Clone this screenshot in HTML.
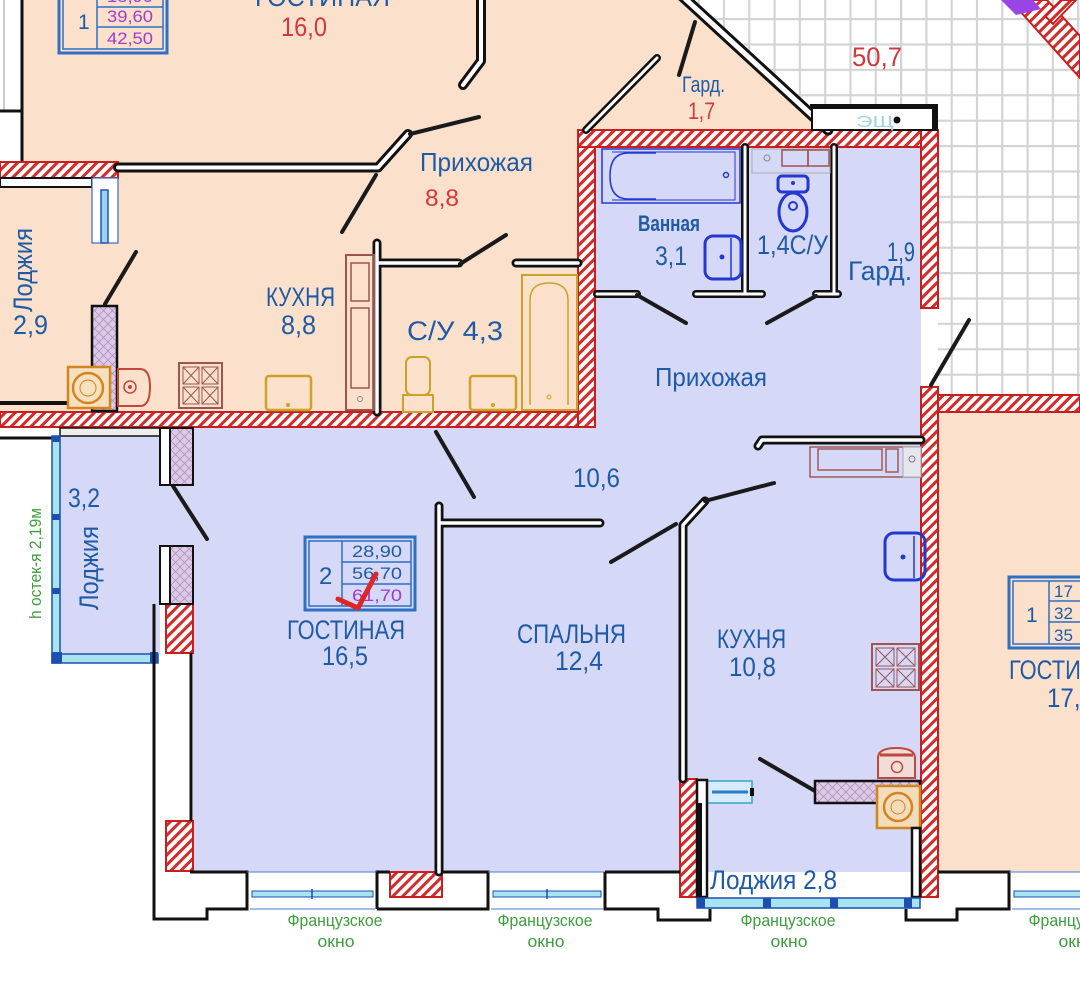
<!DOCTYPE html>
<html><head><meta charset="utf-8">
<style>
html,body{margin:0;padding:0;background:#fff;}
svg{display:block;}
text{font-family:"Liberation Sans","DejaVu Sans",sans-serif;}
</style></head>
<body>
<svg width="1080" height="992" viewBox="0 0 1080 992" xmlns="http://www.w3.org/2000/svg">
<defs>
<pattern id="grid" x="900" y="18" width="25.3" height="25.4" patternUnits="userSpaceOnUse">
 <rect width="25.3" height="25.4" fill="#fff"/>
 <rect x="0" y="0" width="2.2" height="25.4" fill="#d4d4d4"/>
 <rect x="0" y="0" width="25.3" height="2.2" fill="#d4d4d4"/>
</pattern>
<pattern id="hatch" width="7" height="7" patternUnits="userSpaceOnUse" patternTransform="rotate(45)">
 <rect width="7" height="7" fill="#fff"/>
 <rect width="3" height="7" fill="#d42a2a"/>
</pattern>
<pattern id="xh" width="9" height="9" patternUnits="userSpaceOnUse">
 <rect width="9" height="9" fill="#dccbe6"/>
 <path d="M0 0L9 9M9 0L0 9" stroke="#b48fbf" stroke-width="0.8"/>
</pattern>
</defs>

<!-- backgrounds -->
<rect width="1080" height="992" fill="#fff"/>
<rect x="560" y="0" width="520" height="396" fill="url(#grid)"/>
<polygon points="22,0 681,0 828,130 578,130 578,412 0,412 0,162 22,162" fill="#fbe1cc"/>
<rect x="921" y="300" width="17" height="95" fill="#fff"/>
<rect x="938" y="412" width="142" height="460" fill="#fbe1cc"/>
<polygon points="595,147 921,147 921,872 193,872 193,604 160,604 160,427 595,427" fill="#d5d9f7"/>
<rect x="60" y="436" width="100" height="218" fill="#d5d9f7"/>

<!-- left top strip -->
<rect x="0" y="0" width="22" height="162" fill="#fff"/>
<line x1="4" y1="0" x2="4" y2="110" stroke="#bbb" stroke-width="1.5"/>
<line x1="22" y1="0" x2="22" y2="162" stroke="#111" stroke-width="3"/>
<line x1="0" y1="111" x2="22" y2="111" stroke="#111" stroke-width="3"/>

<!-- top-left label box -->
<g stroke="#2f6fc4" fill="none">
 <rect x="59" y="-10" width="108" height="63" stroke-width="3"/>
 <rect x="63" y="-10" width="100" height="59" stroke-width="1.5"/>
 <line x1="97" y1="-10" x2="97" y2="49" stroke-width="1.5"/>
 <line x1="97" y1="7" x2="163" y2="7" stroke-width="1.5"/>
 <line x1="97" y1="27" x2="163" y2="27" stroke-width="1.5"/>
</g>

<!-- red walls -->
<g fill="url(#hatch)" stroke="#c81e1e" stroke-width="2">
 <rect x="0" y="162" width="118" height="16"/>
 <rect x="0" y="412" width="595" height="15"/>
 <rect x="578" y="130" width="17" height="297"/>
 <rect x="578" y="130" width="360" height="17"/>
 <rect x="921" y="130" width="17" height="178"/>
 <rect x="921" y="387" width="17" height="510"/>
 <rect x="938" y="395" width="142" height="17"/>
 <rect x="166" y="604" width="27" height="49"/>
 <rect x="166" y="821" width="27" height="50"/>
 <rect x="390" y="872" width="52" height="25"/>
 <rect x="680" y="779" width="17" height="118"/>
 <polygon points="1010,0 1047,0 1080,36 1080,78"/>
 <polygon points="1045,16 1061,0 1076,0 1053,24"/>
</g>
<polygon points="1001,0 1033,0 1041,9 1016,15" fill="#9a44e6"/>

<!-- loggia top-left details -->
<rect x="0" y="178" width="92" height="9" fill="#fff" stroke="#111" stroke-width="2"/>
<rect x="92" y="178" width="26" height="65" fill="#fff" stroke="#3a6ac0" stroke-width="1.2"/>
<rect x="101" y="190" width="7" height="53" fill="#9fd0f0" stroke="#1d58b8" stroke-width="1.5"/>
<line x1="0" y1="403" x2="68" y2="403" stroke="#111" stroke-width="4"/>

<!-- thin walls (double lines) -->
<g fill="none" stroke="#111" stroke-linecap="round" stroke-linejoin="round">
 <path d="M118 167.5 L378 167.5 L408 134" stroke-width="10"/>
 <path d="M481 0 L481 61 L463 85" stroke-width="10"/>
 <path d="M681 -5 L828 130" stroke-width="11"/>
 <path d="M657 58 L586 130" stroke-width="8"/>
 <path d="M377 243 L377 412 M377 263 L459 263" stroke-width="9"/>
 <path d="M516 263 L578 263" stroke-width="9"/>
 <path d="M745 147 L745 294 M597 294 L637 294 M696 294 L762 294" stroke-width="8"/>
 <path d="M834 147 L834 294 M816 294 L838 294" stroke-width="8"/>
 <path d="M758 446 L762 440 L921 440" stroke-width="9"/>
 <path d="M439 506 L439 872 M439 523 L600 523" stroke-width="9"/>
 <path d="M683 779 L683 525 L705 501" stroke-width="9"/>
</g>
<g fill="none" stroke="#fff" stroke-linecap="round" stroke-linejoin="round">
 <path d="M118 167.5 L378 167.5 L408 134" stroke-width="4"/>
 <path d="M481 0 L481 61 L463 85" stroke-width="4"/>
 <path d="M681 -5 L828 130" stroke-width="5"/>
 <path d="M657 58 L586 130" stroke-width="3"/>
 <path d="M377 243 L377 412 M377 263 L459 263" stroke-width="3.5"/>
 <path d="M516 263 L578 263" stroke-width="3.5"/>
 <path d="M745 147 L745 294 M597 294 L637 294 M696 294 L762 294" stroke-width="3"/>
 <path d="M834 147 L834 294 M816 294 L838 294" stroke-width="3"/>
 <path d="M758 446 L762 440 L921 440" stroke-width="3.5"/>
 <path d="M439 506 L439 872 M439 523 L600 523" stroke-width="3.5"/>
 <path d="M683 779 L683 525 L705 501" stroke-width="3.5"/>
</g>

<!-- door leaves -->
<g stroke="#1a1a1a" stroke-width="4" stroke-linecap="round" fill="none">
 <line x1="410" y1="134" x2="479" y2="117"/>
 <line x1="376" y1="175" x2="342" y2="232"/>
 <line x1="695" y1="22" x2="679" y2="75"/>
 <line x1="460" y1="264" x2="506" y2="235"/>
 <line x1="105" y1="304" x2="136" y2="252"/>
 <line x1="637" y1="295" x2="686" y2="323"/>
 <line x1="816" y1="296" x2="767" y2="323"/>
 <line x1="969" y1="320" x2="931" y2="385"/>
 <line x1="436" y1="432" x2="474" y2="497"/>
 <line x1="173" y1="486" x2="207" y2="539"/>
 <line x1="705" y1="501" x2="774" y2="483"/>
 <line x1="676" y1="524" x2="611" y2="562"/>
 <line x1="760" y1="759" x2="815" y2="791"/>
</g>

<!-- ЭЩ box -->
<rect x="812" y="107" width="122" height="23" fill="#fff" stroke="#111" stroke-width="2"/>
<rect x="810" y="104" width="128" height="5" fill="#111"/>
<rect x="932" y="104" width="6" height="27" fill="#111"/>
<text x="856" y="127" font-size="16" fill="#9fd3e6" textLength="38" lengthAdjust="spacingAndGlyphs">ЭЩ</text>
<circle cx="897" cy="120" r="3.5" fill="#111"/>

<!-- peach kitchen fixtures -->
<rect x="92" y="306" width="25" height="105" fill="url(#xh)" stroke="#111" stroke-width="2.5"/>
<rect x="68" y="367" width="42" height="41" fill="#f7e0c0" stroke="#d3841c" stroke-width="2.5"/>
<circle cx="88" cy="388" r="15" fill="none" stroke="#d3841c" stroke-width="2.5"/>
<circle cx="88" cy="388" r="8" fill="none" stroke="#d3841c" stroke-width="1"/>
<path d="M118 369 L140 369 Q150 369 150 387 Q150 406 140 406 L118 406 Z" fill="#fbe1cc" stroke="#c0483a" stroke-width="2"/>
<circle cx="130" cy="387" r="6" fill="none" stroke="#c0483a" stroke-width="1.5"/>
<circle cx="130" cy="387" r="2" fill="#c0483a"/>
<rect x="179" y="363" width="43" height="45" fill="none" stroke="#9e5555" stroke-width="2"/>
<g stroke="#9e5555" stroke-width="1" fill="none">
 <rect x="183" y="367" width="16" height="17"/><rect x="202" y="367" width="16" height="17"/>
 <rect x="183" y="387" width="16" height="17"/><rect x="202" y="387" width="16" height="17"/>
 <path d="M183 367 L199 384 M199 367 L183 384 M202 367 L218 384 M218 367 L202 384 M183 387 L199 404 M199 387 L183 404 M202 387 L218 404 M218 387 L202 404"/>
</g>
<rect x="266" y="376" width="45" height="34" rx="3" fill="none" stroke="#c9a227" stroke-width="2.5"/>
<circle cx="288" cy="405" r="2" fill="#c9a227"/>
<rect x="346" y="255" width="28" height="155" fill="none" stroke="#a0524f" stroke-width="2"/>
<rect x="351" y="263" width="18" height="38" fill="none" stroke="#a0524f" stroke-width="1.5"/>
<rect x="351" y="308" width="18" height="80" fill="none" stroke="#a0524f" stroke-width="1.5"/>
<circle cx="360" cy="399" r="2.5" fill="none" stroke="#888" stroke-width="1"/>
<rect x="403" y="395" width="30" height="17" fill="none" stroke="#c9a227" stroke-width="2"/>
<rect x="406" y="357" width="24" height="38" rx="6" fill="none" stroke="#c9a227" stroke-width="2"/>
<rect x="470" y="376" width="46" height="34" rx="3" fill="none" stroke="#c9a227" stroke-width="2.5"/>
<circle cx="493" cy="405" r="2" fill="#c9a227"/>
<rect x="522" y="275" width="55" height="135" fill="none" stroke="#c9a227" stroke-width="2"/>
<path d="M530 405 L530 300 Q530 283 549 283 Q568 283 568 300 L568 405" fill="none" stroke="#c9a227" stroke-width="1.5"/>
<circle cx="549" cy="397" r="2" fill="none" stroke="#c9a227"/>

<!-- bath block fixtures -->
<rect x="602" y="149" width="138" height="54" fill="none" stroke="#2238d0" stroke-width="1.5"/>
<path d="M656 153 L628 153 Q610 153 610 176 Q610 199 628 199 L656 199" fill="none" stroke="#2238d0" stroke-width="1.5"/>
<path d="M612 152 L735 152 L735 200 L612 200" fill="none" stroke="#2238d0" stroke-width="1"/>
<circle cx="726" cy="175" r="2.5" fill="none" stroke="#2238d0" stroke-width="1.5"/>
<rect x="705" y="236" width="36" height="43" rx="8" fill="none" stroke="#2238d0" stroke-width="3"/>
<path d="M731 238 L731 278" stroke="#2238d0" stroke-width="1.5"/>
<circle cx="722" cy="257" r="2.5" fill="#2238d0"/>
<rect x="752" y="149" width="78" height="24" fill="none" stroke="#aaa" stroke-width="1"/>
<rect x="782" y="150" width="26" height="16" fill="none" stroke="#a0524f" stroke-width="1.5"/>
<rect x="808" y="150" width="21" height="16" fill="none" stroke="#a0524f" stroke-width="1.5"/>
<circle cx="767" cy="158" r="3" fill="none" stroke="#888"/>
<rect x="778" y="176" width="30" height="16" rx="4" fill="none" stroke="#2238d0" stroke-width="3"/>
<ellipse cx="793" cy="212" rx="14" ry="19" fill="none" stroke="#2238d0" stroke-width="3"/>
<circle cx="793" cy="206" r="4" fill="none" stroke="#2238d0" stroke-width="2"/>
<circle cx="793" cy="183" r="2" fill="#2238d0"/>

<!-- kitchen 10.8 fixtures -->
<rect x="810" y="447" width="111" height="30" fill="none" stroke="#a05a5a" stroke-width="1.5"/>
<rect x="818" y="449" width="64" height="21" fill="none" stroke="#a05a5a" stroke-width="1.5"/>
<rect x="886" y="449" width="12" height="23" fill="none" stroke="#a05a5a" stroke-width="1.5"/>
<rect x="903" y="447" width="18" height="30" fill="#e6e6ee" stroke="#aaa" stroke-width="1"/>
<circle cx="912" cy="459" r="3" fill="none" stroke="#777"/>
<rect x="885" y="533" width="40" height="47" rx="9" fill="none" stroke="#2238d0" stroke-width="3"/>
<path d="M914 536 L914 578" stroke="#2238d0" stroke-width="1.5"/>
<circle cx="903" cy="557" r="2.5" fill="#2238d0"/>
<rect x="872" y="644" width="47" height="46" fill="none" stroke="#9e5555" stroke-width="2"/>
<g stroke="#9e5555" stroke-width="1" fill="none">
 <rect x="876" y="648" width="18" height="18"/><rect x="897" y="648" width="18" height="18"/>
 <rect x="876" y="669" width="18" height="18"/><rect x="897" y="669" width="18" height="18"/>
 <path d="M876 648 L894 666 M894 648 L876 666 M897 648 L915 666 M915 648 L897 666 M876 669 L894 687 M894 669 L876 687 M897 669 L915 687 M915 669 L897 687"/>
</g>
<path d="M878 778 L878 758 Q878 748 896 748 Q915 748 915 758 L915 778 Z" fill="#f1ddd8" stroke="#c0483a" stroke-width="2"/>
<path d="M880 755 L913 755" stroke="#c0483a" stroke-width="3"/>
<circle cx="897" cy="767" r="5.5" fill="none" stroke="#c0483a" stroke-width="1.5"/>
<rect x="815" y="781" width="105" height="22" fill="url(#xh)" stroke="#111" stroke-width="2.5"/>
<rect x="877" y="786" width="43" height="42" fill="#f2dcbc" stroke="#d3841c" stroke-width="2.5"/>
<circle cx="898" cy="807" r="14" fill="none" stroke="#d3841c" stroke-width="2.5"/>
<circle cx="898" cy="807" r="7" fill="none" stroke="#d3841c" stroke-width="1"/>
<rect x="707" y="781" width="45" height="22" fill="#d6ecfa" stroke="#3aa0d0" stroke-width="1.5"/>
<line x1="712" y1="792" x2="748" y2="792" stroke="#2a7ad0" stroke-width="3"/>
<rect x="750" y="788" width="4" height="8" fill="#111"/>

<!-- loggia 2.8 walls & glass -->
<rect x="697" y="780" width="10" height="117" fill="#fff" stroke="#111" stroke-width="2.5"/>
<rect x="697" y="803" width="5" height="94" fill="#111"/>
<rect x="912" y="828" width="8" height="69" fill="#fff" stroke="#111" stroke-width="2.5"/>
<rect x="697" y="898" width="223" height="10" fill="#a8e4f0" stroke="#1c4fb0" stroke-width="1.5"/>
<g fill="#1c4fb0">
 <rect x="697" y="898" width="8" height="10"/><rect x="763" y="898" width="8" height="10"/>
 <rect x="830" y="898" width="8" height="10"/><rect x="904" y="898" width="8" height="10"/>
</g>

<!-- left loggia -->
<rect x="60" y="428" width="100" height="8" fill="#eee" stroke="#111" stroke-width="1.5"/>
<line x1="0" y1="438" x2="52" y2="438" stroke="#111" stroke-width="3"/>
<rect x="52" y="436" width="8" height="227" fill="#a8e4f0" stroke="#1c4fb0" stroke-width="1.5"/>
<rect x="52" y="654" width="106" height="9" fill="#a8e4f0" stroke="#1c4fb0" stroke-width="1.5"/>
<g fill="#1c4fb0">
 <rect x="52" y="436" width="8" height="6"/><rect x="52" y="514" width="8" height="6"/>
 <rect x="52" y="588" width="8" height="6"/><rect x="52" y="652" width="10" height="11"/>
 <rect x="150" y="652" width="8" height="11"/>
</g>
<rect x="160" y="428" width="33" height="57" fill="url(#xh)" stroke="#111" stroke-width="2"/>
<rect x="160" y="428" width="10" height="57" fill="#fff" stroke="#111" stroke-width="2"/>
<rect x="160" y="546" width="33" height="58" fill="url(#xh)" stroke="#111" stroke-width="2"/>
<rect x="160" y="546" width="10" height="58" fill="#fff" stroke="#111" stroke-width="2"/>
<line x1="191" y1="653" x2="191" y2="821" stroke="#111" stroke-width="3"/>

<!-- outer bottom walls -->
<g fill="none" stroke="#111" stroke-width="3" stroke-linejoin="miter">
 <path d="M154 604 L154 919 L207 919 L207 909 L247 909 L247 872 L190 872"/>
 <path d="M377 909 L377 872 L390 872"/>
 <path d="M442 872 L488 872 L488 909 L377 909"/>
 <path d="M605 872 L680 872"/>
 <path d="M605 872 L605 909 L658 909 L658 920 L710 920 L710 909"/>
 <path d="M906 909 L906 920 L957 920 L957 909 L1009 909 L1009 872 L938 872"/>
</g>
<g stroke="#4a7ad0" stroke-width="1">
 <line x1="247" y1="872" x2="377" y2="872"/><line x1="250" y1="909" x2="375" y2="909"/>
 <line x1="488" y1="872" x2="605" y2="872"/><line x1="491" y1="909" x2="603" y2="909"/>
 <line x1="1009" y1="872" x2="1080" y2="872"/><line x1="1012" y1="909" x2="1080" y2="909"/>
</g>
<g fill="#a8e4f0" stroke="#1c4fb0" stroke-width="1">
 <rect x="252" y="891" width="121" height="6"/>
 <rect x="493" y="891" width="108" height="6"/>
 <rect x="1014" y="891" width="70" height="6"/>
</g>
<g stroke="#1c4fb0" stroke-width="1.5">
 <line x1="312" y1="889" x2="312" y2="899"/><line x1="547" y1="889" x2="547" y2="899"/>
</g>
<g stroke="#111" stroke-width="2.5">
 <line x1="377" y1="872" x2="377" y2="909"/>
 <line x1="605" y1="872" x2="605" y2="909"/>
</g>

<!-- label box 2 -->
<g stroke="#2f6fc4" fill="none">
 <rect x="305" y="537" width="110" height="73" stroke-width="3"/>
 <rect x="309" y="541" width="102" height="65" stroke-width="1.5"/>
 <line x1="342" y1="541" x2="342" y2="606" stroke-width="1.5"/>
 <line x1="342" y1="562" x2="411" y2="562" stroke-width="1.5"/>
 <line x1="342" y1="584" x2="411" y2="584" stroke-width="1.5"/>
</g>
<!-- right label box -->
<g stroke="#2f6fc4" fill="none">
 <rect x="1009" y="577" width="80" height="71" stroke-width="3"/>
 <rect x="1013" y="581" width="72" height="63" stroke-width="1.5"/>
 <line x1="1049" y1="581" x2="1049" y2="644" stroke-width="1.5"/>
 <line x1="1049" y1="601" x2="1085" y2="601" stroke-width="1.5"/>
 <line x1="1049" y1="622" x2="1085" y2="622" stroke-width="1.5"/>
</g>

<!-- texts blue -->
<g fill="#1f5aa6" font-size="27">
 <text x="255" y="6" textLength="135" lengthAdjust="spacingAndGlyphs">ГОСТИНАЯ</text>
 <text x="420" y="171" font-size="26" textLength="113" lengthAdjust="spacingAndGlyphs">Прихожая</text>
 <text x="266" y="306" textLength="69" lengthAdjust="spacingAndGlyphs">КУХНЯ</text>
 <text x="281" y="334" textLength="35" lengthAdjust="spacingAndGlyphs">8,8</text>
 <text x="407" y="340" textLength="96" lengthAdjust="spacingAndGlyphs">С/У  4,3</text>
 <text transform="translate(32,312) rotate(-90)" textLength="84" lengthAdjust="spacingAndGlyphs">Лоджия</text>
 <text x="13" y="334" textLength="35" lengthAdjust="spacingAndGlyphs">2,9</text>
 <text x="682" y="92" font-size="22" textLength="43" lengthAdjust="spacingAndGlyphs">Гард.</text>
 <text x="638" y="231" font-size="22" font-weight="bold" textLength="62" lengthAdjust="spacingAndGlyphs">Ванная</text>
 <text x="655" y="265" textLength="32" lengthAdjust="spacingAndGlyphs">3,1</text>
 <text x="757" y="254" textLength="71" lengthAdjust="spacingAndGlyphs">1,4С/У</text>
 <text x="887" y="261" textLength="28" lengthAdjust="spacingAndGlyphs">1,9</text>
 <text x="848" y="280" textLength="64" lengthAdjust="spacingAndGlyphs">Гард.</text>
 <text x="655" y="386" font-size="26" textLength="112" lengthAdjust="spacingAndGlyphs">Прихожая</text>
 <text x="573" y="487" textLength="47" lengthAdjust="spacingAndGlyphs">10,6</text>
 <text x="68" y="507" textLength="32" lengthAdjust="spacingAndGlyphs">3,2</text>
 <text transform="translate(98,610) rotate(-90)" textLength="84" lengthAdjust="spacingAndGlyphs">Лоджия</text>
 <text x="287" y="639" textLength="118" lengthAdjust="spacingAndGlyphs">ГОСТИНАЯ</text>
 <text x="322" y="665" textLength="46" lengthAdjust="spacingAndGlyphs">16,5</text>
 <text x="517" y="643" textLength="109" lengthAdjust="spacingAndGlyphs">СПАЛЬНЯ</text>
 <text x="555" y="670" textLength="48" lengthAdjust="spacingAndGlyphs">12,4</text>
 <text x="717" y="648" textLength="69" lengthAdjust="spacingAndGlyphs">КУХНЯ</text>
 <text x="729" y="676" textLength="47" lengthAdjust="spacingAndGlyphs">10,8</text>
 <text x="710" y="889" textLength="127" lengthAdjust="spacingAndGlyphs">Лоджия 2,8</text>
 <text x="1009" y="679" textLength="118" lengthAdjust="spacingAndGlyphs">ГОСТИНАЯ</text>
 <text x="1047" y="707" textLength="47" lengthAdjust="spacingAndGlyphs">17,1</text>
 <text x="78" y="29" font-size="21">1</text>
 <text x="319" y="584" font-size="24">2</text>
 <text x="1026" y="622" font-size="21">1</text>
</g>
<g fill="#1f5aa6" font-size="17">
 <text x="352" y="557" textLength="50" lengthAdjust="spacingAndGlyphs">28,90</text>
 <text x="352" y="579" textLength="50" lengthAdjust="spacingAndGlyphs">56,70</text>
 <text x="1054" y="597">17</text>
 <text x="1054" y="619">32</text>
 <text x="1054" y="641">35</text>
</g>
<g fill="#a03cc8" font-size="17">
 <text x="352" y="601" textLength="50" lengthAdjust="spacingAndGlyphs">61,70</text>
 <text x="107" y="22" textLength="46" lengthAdjust="spacingAndGlyphs">39,60</text>
 <text x="107" y="44" textLength="46" lengthAdjust="spacingAndGlyphs">42,50</text>
 <text x="107" y="2" textLength="46" lengthAdjust="spacingAndGlyphs">18,90</text>
</g>
<!-- red numbers -->
<g fill="#d5383c" font-size="27">
 <text x="281" y="36" textLength="46" lengthAdjust="spacingAndGlyphs">16,0</text>
 <text x="425" y="206" font-size="24" textLength="34" lengthAdjust="spacingAndGlyphs">8,8</text>
 <text x="688" y="119" font-size="24" textLength="27" lengthAdjust="spacingAndGlyphs">1,7</text>
 <text x="852" y="66" textLength="50" lengthAdjust="spacingAndGlyphs">50,7</text>
</g>
<!-- check mark -->
<path d="M338 599 L358 608 L376 574" fill="none" stroke="#e02525" stroke-width="5" stroke-linecap="round" stroke-linejoin="round"/>

<!-- green labels -->
<g fill="#3c9e3c" font-size="17" text-anchor="middle">
 <text transform="translate(41,619) rotate(-90)" text-anchor="start" textLength="111" lengthAdjust="spacingAndGlyphs">h остек-я 2,19м</text>
 <text x="335" y="926" textLength="95" lengthAdjust="spacingAndGlyphs">Французское</text>
 <text x="336" y="947" textLength="37" lengthAdjust="spacingAndGlyphs">окно</text>
 <text x="545" y="926" textLength="95" lengthAdjust="spacingAndGlyphs">Французское</text>
 <text x="546" y="947" textLength="37" lengthAdjust="spacingAndGlyphs">окно</text>
 <text x="788" y="926" textLength="95" lengthAdjust="spacingAndGlyphs">Французское</text>
 <text x="789" y="947" textLength="37" lengthAdjust="spacingAndGlyphs">окно</text>
 <text x="1076" y="926" textLength="95" lengthAdjust="spacingAndGlyphs">Французское</text>
 <text x="1077" y="947" textLength="37" lengthAdjust="spacingAndGlyphs">окно</text>
</g>
</svg>
</body></html>
